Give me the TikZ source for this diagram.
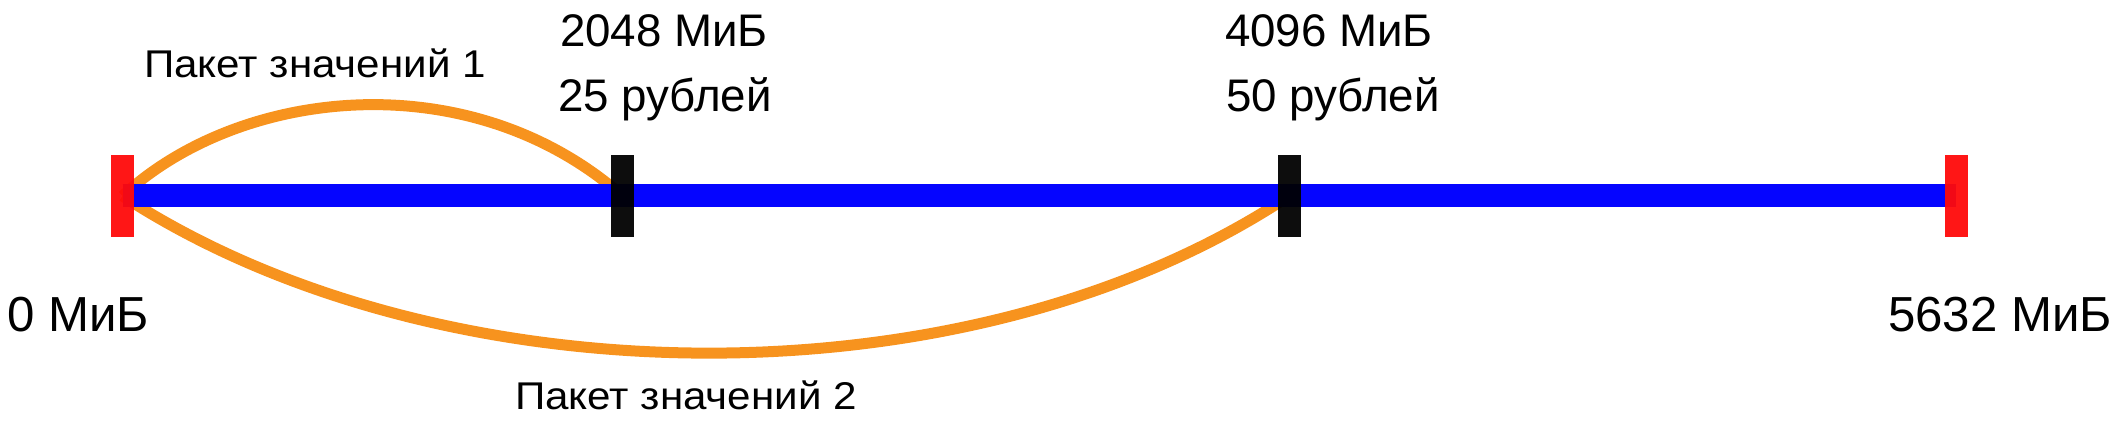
\documentclass[tikz,border=0pt]{standalone}
\usepackage{fontspec}
\setmainfont{Liberation Sans}
\usetikzlibrary{backgrounds}

\definecolor{scaleblue}{RGB}{5,5,255}
\definecolor{endred}{RGB}{255,10,10}
\definecolor{packorange}{RGB}{247,147,30}

\tikzset{
    tickmark/.style={rectangle, inner sep=0pt, minimum width=0.23cm, minimum height=0.82cm, fill=#1, opacity=0.95},
    scaleline/.style={line width=0.23cm, scaleblue},
    packline/.style={line width=0.11cm, packorange},
    marklabel/.style={anchor=base, inner sep=0pt, font=\fontsize{13}{15}\selectfont},
    endlabel/.style={anchor=base, inner sep=0pt, font=\fontsize{14}{16}\selectfont},
    packlabel/.style={anchor=base, inner sep=0pt, font=\fontsize{11}{13}\selectfont}
}
\newcommand{\packtext}[1]{\scalebox{1.09}[1]{#1}}

\begin{document}
\begin{tikzpicture}
    \useasboundingbox (0,0) rectangle (21.28,4.22);

    % ticks on the scale
    \node[tickmark=endred] (start) at (1.225,2.26) {};
    \node[tickmark=black] (mid1) at (6.225,2.26) {};
    \node[tickmark=black] (mid2) at (12.89,2.26) {};
    \node[tickmark=endred] (stop) at (19.56,2.26) {};

    \begin{pgfonlayer}{background}
        % packages
        \draw[packline] (start.center) .. controls (2.4,3.35) and (4.7,3.6) .. (mid1.center);
        \draw[packline] (start.center) .. controls (4.4,0.19) and (9.7,0.14) .. (mid2.center);
        % the scale itself
        \draw[scaleline] (start.center) -- (stop.center);
    \end{pgfonlayer}

    % labels
    \node[endlabel] (lstart) at (0.78,0.90) {0 МиБ};
    \node[endlabel] (lstop) at (20.00,0.90) {5632 МиБ};
    \node[marklabel] (lsize1) at (6.64,3.75) {2048 МиБ};
    \node[marklabel] (lprice1) at (6.65,3.10) {25 рублей};
    \node[marklabel] (lsize2) at (13.29,3.75) {4096 МиБ};
    \node[marklabel] (lprice2) at (13.33,3.10) {50 рублей};
    \node[packlabel] (lpack1) at (3.15,3.44) {\packtext{Пакет значений 1}};
    \node[packlabel] (lpack2) at (6.86,0.12) {\packtext{Пакет значений 2}};
\end{tikzpicture}
\end{document}
